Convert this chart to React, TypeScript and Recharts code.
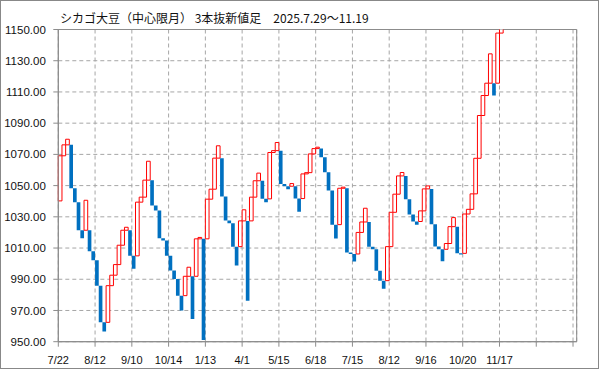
import React from "react";
import { ComposedChart, Bar, Cell, XAxis, YAxis, CartesianGrid, ReferenceArea } from "recharts";

// 3本抜新値足: each brick runs from open to close
const opens = [
  1040.2, 1069.1, 1076.1, 1076.1, 1048.3, 1039.4, 1021.4, 1021.4, 1021.4, 1008.0,
  1002.2, 985.9, 962.4, 962.4, 985.9, 992.6, 999.4, 1011.8, 1021.4, 1021.4,
  1005.0, 1005.0, 1039.4, 1042.6, 1053.5, 1053.5, 1037.2, 1034.1, 1016.3, 1014.8,
  1005.0, 995.6, 990.2, 979.5, 979.5, 991.9, 991.9, 991.9, 1015.9, 1015.9,
  1015.9, 1041.3, 1047.7, 1067.6, 1067.6, 1043.0, 1027.6, 1025.9, 1010.9, 1010.9,
  1027.4, 1027.4, 1027.4, 1042.6, 1053.1, 1053.1, 1041.5, 1041.5, 1071.2, 1072.4,
  1072.4, 1051.0, 1049.6, 1049.6, 1049.6, 1041.7, 1041.7, 1057.5, 1058.3, 1070.3,
  1073.7, 1073.7, 1068.2, 1058.5, 1046.8, 1025.0, 1025.0, 1048.3, 1048.3, 1007.1,
  1006.2, 1006.2, 1020.0, 1026.7, 1026.7, 1010.9, 1009.2, 995.5, 989.1, 989.1,
  1010.9, 1032.9, 1044.5, 1056.2, 1056.2, 1041.3, 1031.5, 1027.0, 1027.0, 1033.8,
  1047.9, 1047.9, 1025.3, 1011.0, 1009.2, 1009.2, 1012.9, 1023.7, 1023.7, 1006.6,
  1006.6, 1031.8, 1034.8, 1044.7, 1067.5, 1094.9, 1107.7, 1115.6, 1115.6, 1115.6,
  1147.7,
];

const closes = [
  1069.1, 1076.1, 1079.7, 1048.3, 1039.4, 1021.4, 1016.3, 1040.6, 1008.0, 1002.2,
  985.9, 962.4, 956.5, 985.9, 992.6, 999.4, 1011.8, 1021.4, 1023.3, 1005.0,
  996.8, 1039.4, 1042.6, 1053.5, 1065.6, 1037.2, 1034.1, 1016.3, 1014.8, 1005.0,
  995.6, 990.2, 979.5, 970.0, 991.9, 997.7, 964.6, 1015.9, 1016.8, 951.1,
  1041.3, 1047.7, 1067.6, 1075.5, 1043.0, 1027.6, 1025.9, 1010.9, 998.8, 1027.4,
  1034.5, 976.3, 1042.6, 1053.1, 1058.0, 1041.5, 1039.4, 1071.2, 1072.4, 1077.6,
  1051.0, 1049.6, 1047.6, 1051.3, 1041.7, 1033.3, 1057.5, 1058.3, 1070.3, 1073.7,
  1074.6, 1068.2, 1058.5, 1046.8, 1025.0, 1016.1, 1048.3, 1049.0, 1007.1, 1006.2,
  1001.3, 1020.0, 1026.7, 1035.5, 1010.9, 1009.2, 995.5, 989.1, 984.0, 1010.9,
  1032.9, 1044.5, 1056.2, 1058.4, 1041.3, 1031.5, 1027.0, 1025.0, 1033.8, 1047.9,
  1049.8, 1025.3, 1011.0, 1009.2, 1001.5, 1012.9, 1023.7, 1029.5, 1006.6, 1005.8,
  1031.8, 1034.8, 1044.7, 1067.5, 1094.9, 1107.7, 1115.6, 1134.4, 1107.7, 1147.7,
  1151.0,
];

const tickLabels = ["7/22", "8/12", "9/10", "10/14", "1/13", "4/1", "5/15", "6/18", "7/15", "8/12", "9/16", "10/20", "11/17", "", ""];
const xTicks = tickLabels.map((_, i) => i * 10);
const yTicks = [950, 970, 990, 1010, 1030, 1050, 1070, 1090, 1110, 1130, 1150];

const UP = "#FF0000";
const DOWN = "#0070C0";
const GRID = "#A6A6A6";
const AXIS = "#8C8C8C";

const data = opens.map((o, i) => ({
  x: i + 0.5,
  range: [Math.min(o, closes[i]), Math.max(o, closes[i])],
  up: closes[i] > o,
}));

export default function App() {
  return (
    <div style={{ position: "relative", width: 599, height: 369, background: "#fff" }}>
      <style>{"body{margin:0}"}</style>
      <ComposedChart
        width={599}
        height={369}
        data={data}
        margin={{ top: 29.5, right: 22.3, bottom: 0, left: 0 }}
      >
        <CartesianGrid stroke={GRID} strokeDasharray="4 3" />
        <XAxis
          type="number"
          dataKey="x"
          domain={[0, 141]}
          ticks={xTicks}
          interval={0}
          height={27.3}
          tickFormatter={(v: number) => tickLabels[Math.round(v / 10)] || ""}
          tick={{ fontSize: 11, fill: "#111", fontFamily: "Liberation Sans" }}
          tickSize={5}
          tickMargin={9}
          stroke={AXIS}
        />
        <YAxis
          domain={[950, 1150]}
          ticks={yTicks}
          interval={0}
          allowDataOverflow
          width={58.3}
          tickFormatter={(v: number) => v.toFixed(2)}
          tick={{ fontSize: 11.5, fill: "#111", fontFamily: "Liberation Sans" }}
          tickSize={5}
          tickMargin={7.5}
          stroke={AXIS}
        />
        <Bar dataKey="range" barSize={3.67} isAnimationActive={false}>
          {data.map((d, i) => (
            <Cell key={i} fill={d.up ? "#fff" : DOWN} stroke={d.up ? UP : "none"} strokeWidth={1} />
          ))}
        </Bar>
        <ReferenceArea x1={0} x2={141} y1={950} y2={1150} fill="none" fillOpacity={0} stroke={AXIS} />
      </ComposedChart>
      <div
        style={{
          position: "absolute",
          left: 60,
          top: 10,
          fontSize: 12,
          lineHeight: "16px",
          color: "#111",
          fontFamily: "'Noto Sans CJK JP', sans-serif",
          whiteSpace: "pre",
        }}
      >
        {"シカゴ大豆（中心限月） 3本抜新値足　2025.7.29〜11.19"}
      </div>
      <div
        style={{
          position: "absolute",
          inset: 0,
          border: "1px solid #888",
          boxSizing: "border-box",
          pointerEvents: "none",
        }}
      />
    </div>
  );
}
